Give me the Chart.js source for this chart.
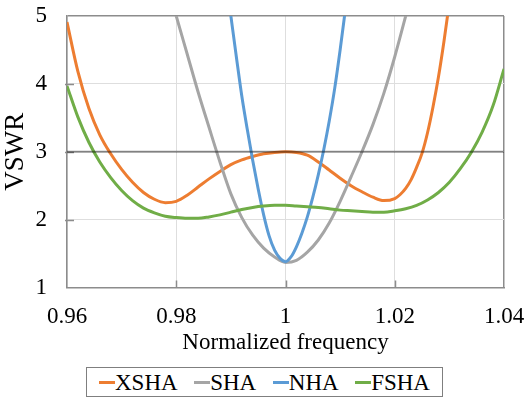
<!DOCTYPE html>
<html><head><meta charset="utf-8">
<script src="https://cdn.jsdelivr.net/npm/chart.js@4.4.0/dist/chart.umd.min.js"></script>
<style>
html,body{margin:0;padding:0;background:#fff;}
#wrap{position:relative;width:525px;height:399px;overflow:hidden;}
#c{position:absolute;left:0;top:0;}
#legend{position:absolute;left:86px;top:367px;width:357px;height:30px;box-sizing:border-box;border:1px solid #7f7f7f;display:flex;align-items:center;justify-content:space-between;padding:0 12px;font-family:"Liberation Serif",serif;font-size:23px;color:#000;line-height:1;background:#fff;z-index:2;}
.item{display:flex;align-items:center;white-space:nowrap;}
.sw{width:16px;height:3px;display:inline-block;}
</style></head><body>
<div id="wrap"><canvas id="c" width="525" height="399" style="width:525px;height:399px"></canvas><div id="legend"></div></div>
<script>
const seriesNames = ['XSHA', 'SHA', 'NHA', 'FSHA'];
const seriesColors = ['#ED7D31', '#A5A5A5', '#5B9BD5', '#70AD47'];

const xshaFreq = [0.960,0.962,0.964,0.966,0.968,0.970,0.972,0.974,0.976,0.978,0.980,0.982,0.984,0.986,0.988,0.990,0.992,0.994,0.996,0.998,1.000,1.002,1.004,1.006,1.008,1.010,1.012,1.014,1.016,1.018,1.020,1.021,1.022,1.023,1.024,1.025,1.026,1.027,1.028,1.029,1.030,1.031];
const xshaVSWR = [4.91,4.18,3.64,3.25,2.97,2.74,2.55,2.40,2.30,2.25,2.27,2.36,2.48,2.60,2.71,2.81,2.88,2.93,2.97,2.99,3.00,2.99,2.95,2.85,2.73,2.61,2.50,2.41,2.33,2.28,2.31,2.37,2.46,2.59,2.77,2.98,3.28,3.66,4.10,4.62,5.20,5.80];

const shaFreq = [0.978,0.980,0.982,0.984,0.986,0.988,0.990,0.992,0.994,0.996,0.998,1.000,1.002,1.004,1.006,1.008,1.010,1.012,1.014,1.016,1.018,1.020,1.022,1.024];
const shaVSWR = [5.55,5.00,4.44,3.88,3.36,2.85,2.38,2.03,1.77,1.58,1.45,1.37,1.40,1.52,1.70,1.95,2.27,2.63,3.00,3.40,3.86,4.40,5.00,5.62];

const nhaFreq = [0.989,0.990,0.991,0.992,0.993,0.994,0.995,0.996,0.997,0.998,0.999,1.000,1.001,1.002,1.003,1.004,1.005,1.006,1.007,1.008,1.009,1.010,1.011,1.012];
const nhaVSWR = [5.60,5.00,4.40,3.82,3.33,2.87,2.45,2.07,1.76,1.55,1.43,1.38,1.45,1.60,1.80,2.04,2.33,2.66,3.03,3.45,3.93,4.50,5.12,5.75];

const fshaFreq = [0.960,0.962,0.964,0.966,0.968,0.970,0.972,0.974,0.976,0.978,0.980,0.982,0.984,0.986,0.988,0.990,0.992,0.994,0.996,0.998,1.000,1.002,1.004,1.006,1.008,1.010,1.012,1.014,1.016,1.018,1.020,1.022,1.024,1.026,1.028,1.030,1.032,1.034,1.036,1.038,1.040];
const fshaVSWR = [3.97,3.51,3.14,2.85,2.62,2.43,2.28,2.17,2.10,2.05,2.03,2.02,2.02,2.04,2.07,2.11,2.15,2.18,2.20,2.21,2.21,2.20,2.19,2.18,2.16,2.14,2.13,2.12,2.11,2.11,2.13,2.16,2.21,2.29,2.40,2.55,2.75,2.99,3.29,3.68,4.22];

const xTicks = [0.96, 0.98, 1, 1.02, 1.04];
const yTicks = [1, 2, 3, 4, 5];
const thresholdVSWR = 3;

const FONT = '"Liberation Serif", "Times New Roman", serif';
const AXIS_COLOR = '#8c8c8c';

const freqs = [xshaFreq, shaFreq, nhaFreq, fshaFreq];
const vals = [xshaVSWR, shaVSWR, nhaVSWR, fshaVSWR];

const datasets = seriesNames.map((name, i) => ({
  label: name,
  data: freqs[i].map((f, k) => ({x: f, y: vals[i][k]})),
  borderColor: seriesColors[i],
  backgroundColor: seriesColors[i],
  borderWidth: 3,
  pointRadius: 0,
  cubicInterpolationMode: 'monotone',
  fill: false,
  clip: 0,
  order: 4 - i
}));
datasets.push({
  label: 'VSWR = 3',
  data: [{x: xTicks[0], y: thresholdVSWR}, {x: xTicks[xTicks.length - 1], y: thresholdVSWR}],
  borderColor: 'rgba(0,0,0,0.42)',
  borderWidth: 2,
  pointRadius: 0,
  tension: 0,
  fill: false,
  clip: 0,
  order: 0
});

const innerTicks = {
  id: 'innerTicks',
  beforeDatasetsDraw(chart) {
    const {ctx, chartArea: a, scales: {x, y}} = chart;
    ctx.save();
    ctx.strokeStyle = AXIS_COLOR;
    ctx.lineWidth = 1.5;
    ctx.beginPath();
    xTicks.slice(1, -1).forEach(v => {
      const px = Math.round(x.getPixelForValue(v)) + 0.5;
      ctx.moveTo(px, a.bottom);
      ctx.lineTo(px, a.bottom - 7);
    });
    yTicks.slice(1, -1).forEach(v => {
      const py = Math.round(y.getPixelForValue(v)) + 0.5;
      ctx.moveTo(a.left - 2, py);
      ctx.lineTo(a.left + 7, py);
    });
    ctx.stroke();
    ctx.restore();
  }
};

new Chart(document.getElementById('c'), {
  type: 'line',
  data: {datasets},
  plugins: [innerTicks],
  options: {
    responsive: false,
    animation: false,
    devicePixelRatio: 1,
    layout: {padding: {left: 0, right: 21, top: 16, bottom: 0}},
    plugins: {legend: {display: false}, tooltip: {enabled: false}},
    scales: {
      x: {
        type: 'linear', min: xTicks[0], max: xTicks[xTicks.length - 1],
        afterBuildTicks: s => { s.ticks = xTicks.map(v => ({value: v})); },
        afterFit: s => { s.height = 111.5; s.paddingLeft = 0; s.paddingRight = 0; },
        ticks: {font: {family: FONT, size: 23}, color: '#000', padding: 16, maxRotation: 0, autoSkip: false, callback: v => String(v)},
        grid: {color: ctx => (ctx.tick && ctx.tick.value === xTicks[xTicks.length - 1]) ? AXIS_COLOR : '#dedede', lineWidth: ctx => (ctx.tick && ctx.tick.value === xTicks[xTicks.length - 1]) ? 1.5 : 1, drawTicks: false},
        border: {color: AXIS_COLOR, width: 1.5},
        title: {display: true, text: 'Normalized frequency', font: {family: FONT, size: 23}, color: '#000', padding: {top: 0, bottom: 42}}
      },
      y: {
        min: yTicks[0], max: yTicks[yTicks.length - 1],
        afterBuildTicks: s => { s.ticks = yTicks.map(v => ({value: v})); },
        afterFit: s => { s.width = 67; s.paddingTop = 0; s.paddingBottom = 0; },
        ticks: {font: {family: FONT, size: 23}, color: '#000', padding: 20, callback: v => String(v)},
        grid: {color: ctx => (ctx.tick && ctx.tick.value === yTicks[yTicks.length - 1]) ? AXIS_COLOR : '#dedede', lineWidth: ctx => (ctx.tick && ctx.tick.value === yTicks[yTicks.length - 1]) ? 1.5 : 1, drawTicks: false},
        border: {color: AXIS_COLOR, width: 1.5},
        title: {display: true, text: 'VSWR', font: {family: FONT, size: 27}, color: '#000', padding: {top: 0, bottom: 5}}
      }
    }
  }
});

const legend = document.getElementById('legend');
seriesNames.forEach((name, i) => {
  const item = document.createElement('span');
  item.className = 'item';
  const sw = document.createElement('span');
  sw.className = 'sw';
  sw.style.background = seriesColors[i];
  const tx = document.createElement('span');
  tx.textContent = name;
  item.appendChild(sw);
  item.appendChild(tx);
  legend.appendChild(item);
});
</script>
</body></html>
